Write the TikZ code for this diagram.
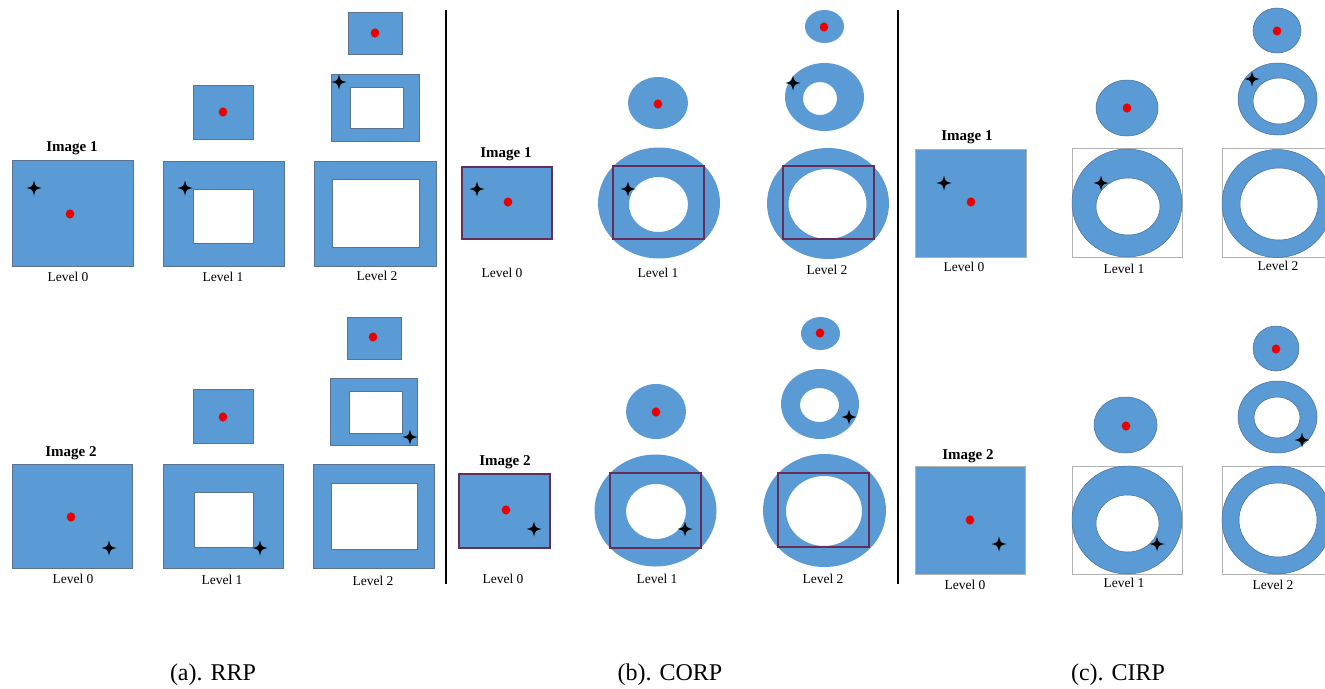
\documentclass[tikz,border=0pt]{standalone}
\usepackage{fontspec}
\setmainfont{Liberation Serif}
\definecolor{shapeblue}{RGB}{91,155,213}
\definecolor{edgeblue}{RGB}{75,110,150}
\definecolor{framepurple}{RGB}{100,45,90}
\definecolor{framegray}{RGB}{178,178,178}
\definecolor{dotred}{RGB}{235,0,0}
\tikzset{
  blob/.style={fill=shapeblue},
  rrpshape/.style={fill=shapeblue,draw=edgeblue!70!gray,line width=0.5pt,even odd rule},
  cirpshape/.style={fill=shapeblue,draw=edgeblue,line width=0.5pt,even odd rule},
  pframe/.style={draw=framepurple,line width=1.1pt},
  gframe/.style={draw=framegray,line width=0.9pt},
  levellbl/.style={font=\fontsize{13.5}{14}\selectfont,inner sep=0pt},
  imglbl/.style={font=\fontsize{15}{16}\selectfont\bfseries,inner sep=0pt},
  caplbl/.style={font=\fontsize{24}{26}\selectfont,inner sep=0pt},
  divider/.style={draw=black,line width=2.4pt},
  sparkle/.pic={
    \fill[black] (0,-7.5) .. controls (1.4,-1.4) .. (7.5,0) .. controls (1.4,1.4) .. (0,7.5)
      .. controls (-1.4,1.4) .. (-7.5,0) .. controls (-1.4,-1.4) .. (0,-7.5) -- cycle;
  }
}
\newcommand\reddot[1]{\fill[dotred] (#1) ellipse [x radius=4.3,y radius=4.6];}
\newcommand\sparkleat[1]{\pic at (#1) {sparkle};}
\begin{document}
\begin{tikzpicture}[x=1pt,y=-1pt]
\useasboundingbox (0,0) rectangle (1325,688);
\fill[white] (0,0) rectangle (1325,688);
\clip (0,0) rectangle (1325,688);

% ---------- dividers ----------
\coordinate (d1t) at (446,10); \coordinate (d1b) at (446,584);
\coordinate (d2t) at (898,10); \coordinate (d2b) at (898,584);
\draw[divider] (d1t) -- (d1b);
\draw[divider] (d2t) -- (d2b);

% ================= (a) RRP =================
% Image 1
\filldraw[rrpshape] (12,160) rectangle (133,266);
\sparkleat{34,188} \reddot{70,214}
\filldraw[rrpshape] (193,85) rectangle (253,139); \reddot{223,112}
\filldraw[rrpshape] (163,161) rectangle (284,266) (193,189) rectangle (253,243);
\sparkleat{185,188}
\filldraw[rrpshape] (348,12) rectangle (402,54); \reddot{375,33}
\filldraw[rrpshape] (331,74) rectangle (419,141) (350,87) rectangle (403,128);
\sparkleat{339,82}
\filldraw[rrpshape] (314,161) rectangle (436,266) (332,179) rectangle (419,247);
\node[imglbl]   (a1img) at (72,148) {Image 1};
\node[levellbl] (a1l0)  at (68,277) {Level 0};
\node[levellbl] (a1l1)  at (223,277) {Level 1};
\node[levellbl] (a1l2)  at (377,276) {Level 2};
% Image 2
\filldraw[rrpshape] (12,464) rectangle (132,568);
\reddot{71,517} \sparkleat{109,548}
\filldraw[rrpshape] (193,389) rectangle (253,443); \reddot{223,417}
\filldraw[rrpshape] (163,464) rectangle (283,568) (194,492) rectangle (253,547);
\sparkleat{260,548}
\filldraw[rrpshape] (347,317) rectangle (401,359); \reddot{373,337}
\filldraw[rrpshape] (330,378) rectangle (417,445) (349,391) rectangle (402,433);
\sparkleat{410,437}
\filldraw[rrpshape] (313,464) rectangle (434,568) (331,483) rectangle (417,549);
\node[imglbl]   (a2img) at (71,453) {Image 2};
\node[levellbl] (a2l0)  at (73,579) {Level 0};
\node[levellbl] (a2l1)  at (222,580) {Level 1};
\node[levellbl] (a2l2)  at (373,581) {Level 2};
\node[caplbl] (capa) at (213,675) {(a). RRP};

% ================= (b) CORP =================
% Image 1
\fill[blob] (462,167) rectangle (552,239);
\draw[pframe] (462,167) rectangle (552,239);
\sparkleat{477,189} \reddot{508,202}
\fill[blob] (658,103) ellipse [x radius=30,y radius=26]; \reddot{658,104}
\fill[blob,even odd rule] (659,203) ellipse [x radius=61,y radius=55.5]
  (658.5,204.5) ellipse [x radius=29.5,y radius=27.5];
\draw[pframe] (613,166) rectangle (704,239);
\sparkleat{628,189}
\fill[blob] (824.5,26.5) ellipse [x radius=19.5,y radius=16.5]; \reddot{824,27}
\fill[blob,even odd rule] (824.5,97) ellipse [x radius=39.5,y radius=34]
  (820,98.5) ellipse [x radius=17,y radius=16.5];
\sparkleat{793,83}
\fill[blob,even odd rule] (828,203.5) ellipse [x radius=61,y radius=55.5]
  (827.5,204) ellipse [x radius=39,y radius=35];
\draw[pframe] (783,166) rectangle (874,239);
\node[imglbl]   (b1img) at (506,154) {Image 1};
\node[levellbl] (b1l0)  at (502,273) {Level 0};
\node[levellbl] (b1l1)  at (658,273) {Level 1};
\node[levellbl] (b1l2)  at (827,270) {Level 2};
% Image 2
\fill[blob] (459,474) rectangle (550,548);
\draw[pframe] (459,474) rectangle (550,548);
\reddot{506,510} \sparkleat{534,529}
\fill[blob] (656,411.5) ellipse [x radius=30,y radius=27.5]; \reddot{656,412}
\fill[blob,even odd rule] (655.5,510.5) ellipse [x radius=61,y radius=56]
  (656,511.5) ellipse [x radius=30,y radius=27.5];
\draw[pframe] (610,473) rectangle (701,548);
\sparkleat{685,529}
\fill[blob] (820.5,333.5) ellipse [x radius=19.5,y radius=16.5]; \reddot{820,333}
\fill[blob,even odd rule] (820,404) ellipse [x radius=39,y radius=35]
  (819.5,405) ellipse [x radius=19.5,y radius=17];
\sparkleat{849,417}
\fill[blob,even odd rule] (824.5,510.5) ellipse [x radius=61.5,y radius=56.5]
  (824,511) ellipse [x radius=38,y radius=35];
\draw[pframe] (778,473) rectangle (869,547);
\node[imglbl]   (b2img) at (505,462) {Image 2};
\node[levellbl] (b2l0)  at (503,579) {Level 0};
\node[levellbl] (b2l1)  at (657,579) {Level 1};
\node[levellbl] (b2l2)  at (823,579) {Level 2};
\node[caplbl] (capb) at (670,675) {(b). CORP};

% ================= (c) CIRP =================
% Image 1
\fill[blob] (915,149) rectangle (1026,257);
\draw[gframe] (915,149) rectangle (1026,257);
\sparkleat{944,183} \reddot{971,202}
\filldraw[cirpshape] (1127,108) ellipse [x radius=31,y radius=28]; \reddot{1127,108}
\draw[gframe] (1072,148) rectangle (1182,257);
\filldraw[cirpshape] (1127,203) ellipse [x radius=55,y radius=54]
  (1128,206.5) ellipse [x radius=32,y radius=28.5];
\sparkleat{1101,183}
\filldraw[cirpshape] (1277,30.5) ellipse [x radius=24,y radius=22.5]; \reddot{1277,31}
\filldraw[cirpshape] (1277.5,99) ellipse [x radius=39.5,y radius=36]
  (1279,101) ellipse [x radius=26,y radius=23];
\sparkleat{1252,79}
\draw[gframe] (1222,148) rectangle (1332,257);
\filldraw[cirpshape] (1277,203.5) ellipse [x radius=55,y radius=54]
  (1279,204) ellipse [x radius=39,y radius=36];
\node[imglbl]   (c1img) at (967,137) {Image 1};
\node[levellbl] (c1l0)  at (964,267) {Level 0};
\node[levellbl] (c1l1)  at (1124,269) {Level 1};
\node[levellbl] (c1l2)  at (1278,266) {Level 2};
% Image 2
\fill[blob] (915,466) rectangle (1025,574);
\draw[gframe] (915,466) rectangle (1025,574);
\reddot{970,520} \sparkleat{999,544}
\filldraw[cirpshape] (1125.5,425) ellipse [x radius=31.5,y radius=28]; \reddot{1126,426}
\draw[gframe] (1072,466) rectangle (1182,574);
\filldraw[cirpshape] (1127,520) ellipse [x radius=55,y radius=54]
  (1127.5,523.5) ellipse [x radius=31.5,y radius=28.5];
\sparkleat{1157,544}
\filldraw[cirpshape] (1276,348.5) ellipse [x radius=23,y radius=22.5]; \reddot{1276,349}
\filldraw[cirpshape] (1277.5,417) ellipse [x radius=39.5,y radius=36]
  (1277,417.5) ellipse [x radius=23,y radius=20.5];
\sparkleat{1302,440}
\draw[gframe] (1222,466) rectangle (1332,574);
\filldraw[cirpshape] (1277,520) ellipse [x radius=55,y radius=54]
  (1278,520) ellipse [x radius=39,y radius=37];
\node[imglbl]   (c2img) at (968,456) {Image 2};
\node[levellbl] (c2l0)  at (965,585) {Level 0};
\node[levellbl] (c2l1)  at (1124,583) {Level 1};
\node[levellbl] (c2l2)  at (1273,585) {Level 2};
\node[caplbl] (capc) at (1118,675) {(c). CIRP};
\end{tikzpicture}
\end{document}
